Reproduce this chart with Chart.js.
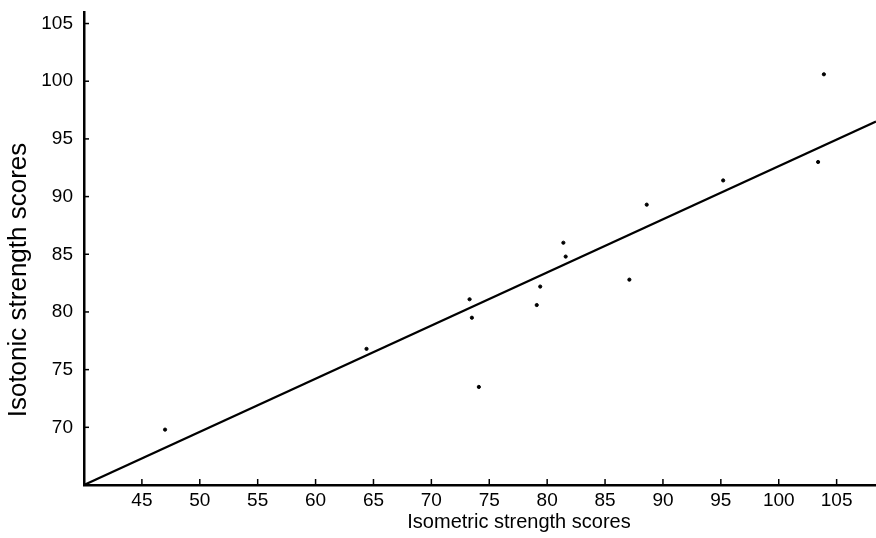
<!DOCTYPE html>
<html>
<head>
<meta charset="utf-8">
<script src="https://cdn.jsdelivr.net/npm/chart.js@4"></script>
<style>
  html, body { margin: 0; padding: 0; background: #fff; }
  #wrap { width: 876px; height: 538px; }
</style>
</head>
<body>
<div id="wrap"><canvas id="chart-area"></canvas></div>
<script>
// data
var isometric = [47.0, 64.4, 73.3, 73.5, 74.1, 79.1, 79.4, 81.4, 81.6, 87.1, 88.6, 95.2, 103.4, 103.9];
var isotonic  = [69.8, 76.8, 81.1, 79.5, 73.5, 80.6, 82.2, 86.0, 84.8, 82.8, 89.3, 91.4, 93.0, 100.6];
var fitX = [40, 108.4];
var fitY = [65, 96.5];
var xTickLabels = [45, 50, 55, 60, 65, 70, 75, 80, 85, 90, 95, 100, 105];
var yTickLabels = [70, 75, 80, 85, 90, 95, 100, 105];

var tickFont = { family: "'Liberation Sans', Arial, sans-serif", size: 19 };

// short inward tick marks + axis titles
var axisExtras = {
    id: 'axisExtras',
    afterDraw: function(chart) {
        var ctx = chart.ctx;
        var xs = chart.scales.x, ys = chart.scales.y;
        var area = chart.chartArea;
        ctx.save();
        ctx.strokeStyle = '#000';
        ctx.lineWidth = 1.5;
        xTickLabels.forEach(function(v) {
            var px = xs.getPixelForValue(v);
            ctx.beginPath();
            ctx.moveTo(px, area.bottom);
            ctx.lineTo(px, area.bottom - 6);
            ctx.stroke();
        });
        yTickLabels.forEach(function(v) {
            var py = ys.getPixelForValue(v);
            ctx.beginPath();
            ctx.moveTo(area.left, py);
            ctx.lineTo(area.left + 5, py);
            ctx.stroke();
        });
        ctx.fillStyle = '#000';
        ctx.textAlign = 'center';
        ctx.textBaseline = 'middle';
        ctx.font = "20px 'Liberation Sans', Arial, sans-serif";
        ctx.fillText('Isometric strength scores', 519, 522);
        ctx.translate(19, 280);
        ctx.rotate(-Math.PI / 2);
        ctx.font = "26px 'Liberation Sans', Arial, sans-serif";
        ctx.fillText('Isotonic strength scores', 0, 0);
        ctx.restore();
    }
};

var points = isometric.map(function(x, i) { return { x: x, y: isotonic[i] }; });
var fitLine = fitX.map(function(x, i) { return { x: x, y: fitY[i] }; });

var config = {
    type: 'scatter',
    data: {
        datasets: [{
            label: 'Subjects',
            data: points,
            backgroundColor: '#000',
            borderColor: '#000',
            pointRadius: 1.6,
            pointHoverRadius: 1.6
        }, {
            type: 'line',
            label: 'Fit',
            data: fitLine,
            borderColor: '#000',
            borderWidth: 2.2,
            pointRadius: 0,
            fill: false
        }]
    },
    options: {
        responsive: true,
        maintainAspectRatio: false,
        animation: false,
        layout: { autoPadding: false, padding: { top: 12, right: 0, left: 0, bottom: 0 } },
        plugins: {
            legend: { display: false },
            tooltip: { enabled: false },
            title: { display: false }
        },
        scales: {
            x: {
                type: 'linear',
                min: 40,
                max: 108.4,
                grid: { display: true, drawOnChartArea: false, drawTicks: false },
                border: { display: true, color: '#000', width: 2.5 },
                ticks: {
                    stepSize: 5,
                    includeBounds: false,
                    autoSkip: false,
                    maxRotation: 0,
                    padding: 4,
                    color: '#000',
                    font: tickFont,
                    callback: function(v) { return xTickLabels.indexOf(v) >= 0 ? String(v) : ''; }
                },
                afterFit: function(scale) {
                    scale.height = 53;
                    scale.paddingLeft = 0;
                    scale.paddingRight = 0;
                }
            },
            y: {
                type: 'linear',
                min: 65,
                max: 106,
                grid: { display: true, drawOnChartArea: false, drawTicks: false },
                border: { display: true, color: '#000', width: 2.5 },
                ticks: {
                    stepSize: 5,
                    includeBounds: false,
                    autoSkip: false,
                    padding: 11,
                    color: '#000',
                    font: tickFont,
                    callback: function(v) { return yTickLabels.indexOf(v) >= 0 ? String(v) : ''; }
                },
                afterFit: function(scale) {
                    scale.width = 84;
                    scale.paddingTop = 0;
                    scale.paddingBottom = 0;
                }
            }
        }
    },
    plugins: [axisExtras]
};

var ctx = document.getElementById('chart-area').getContext('2d');
window.myScatter = new Chart(ctx, config);
</script>
</body>
</html>
